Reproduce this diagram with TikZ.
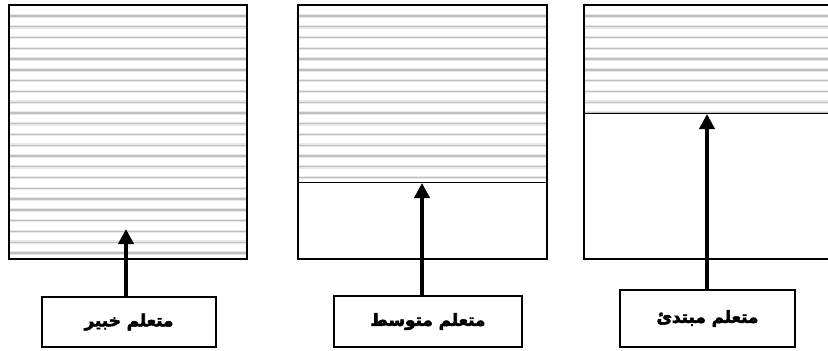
\documentclass[tikz,border=0pt]{standalone}
\usepackage{fontspec}
\usetikzlibrary{arrows.meta}
\newfontfamily\arabicfont[Script=Arabic]{DejaVu Sans Bold}
\TeXXeTstate=1
\newcommand{\heavytext}[1]{\special{pdf:literal direct 2 Tr 0.55 w}#1\special{pdf:literal direct 0 Tr}}
\begin{document}
\begin{tikzpicture}[x=1pt,y=-1pt,
  panel/.style={draw=black,line width=1.8pt,anchor=north west,inner sep=0pt,outer sep=0pt},
  lab/.style={draw=black,line width=1.8pt,anchor=north west,inner sep=0pt,outer sep=0pt,font=\arabicfont\fontsize{16.8}{18}\selectfont},
  halo/.style={draw=gray!18,line width=3.6pt},
  hline/.style={draw=gray!50,line width=1.3pt},
  divider/.style={draw=black,line width=1pt},
  arr/.style={line width=3.8pt,-{Triangle[length=15pt,width=15pt]}}]
\useasboundingbox (0,0) rectangle (828,351);
\fill[white] (0,0) rectangle (828,351);
% hatching
\foreach \x/\w/\ymax in {9/238/259, 298/249/182, 584/246/113}{
  \begin{scope}
    \clip (\x,5) rectangle ({\x+\w},\ymax);
    \foreach \k in {0,...,22}{
      \pgfmathsetmacro\yy{16+10.77*\k}
      \draw[halo] (\x,\yy) -- ({\x+\w},\yy);
      \draw[hline] (\x,\yy) -- ({\x+\w},\yy);
    }
  \end{scope}
}
% panels
\node[panel,minimum width=238pt,minimum height=254pt] (p1) at (9,5) {};
\node[panel,minimum width=249pt,minimum height=254pt] (p2) at (298,5) {};
\node[panel,minimum width=246pt,minimum height=254pt] (p3) at (584,5) {};
% dividers
\coordinate (d2) at (0,182);
\coordinate (d3) at (0,113);
\draw[divider] (p2.west |- d2) -- (p2.east |- d2);
\draw[divider] (p3.west |- d3) -- (p3.east |- d3);
% arrow tips
\coordinate (t1) at (126,229);
\coordinate (t2) at (422,183);
\coordinate (t3) at (707,114);
% labels
\node[lab,minimum width=174pt,minimum height=50pt] (l1) at (42,297) {\heavytext{\beginR متعلم خبير\endR}};
\node[lab,minimum width=188pt,minimum height=51pt] (l2) at (334,296) {\heavytext{\beginR متعلم متوسط\endR}};
\node[lab,minimum width=175pt,minimum height=57pt] (l3) at (620,290) {\heavytext{\beginR متعلم مبتدئ\endR}};
% arrows
\draw[arr] (l1.north -| t1) -- (t1);
\draw[arr] (l2.north -| t2) -- (t2);
\draw[arr] (l3.north -| t3) -- (t3);
\end{tikzpicture}
\end{document}
